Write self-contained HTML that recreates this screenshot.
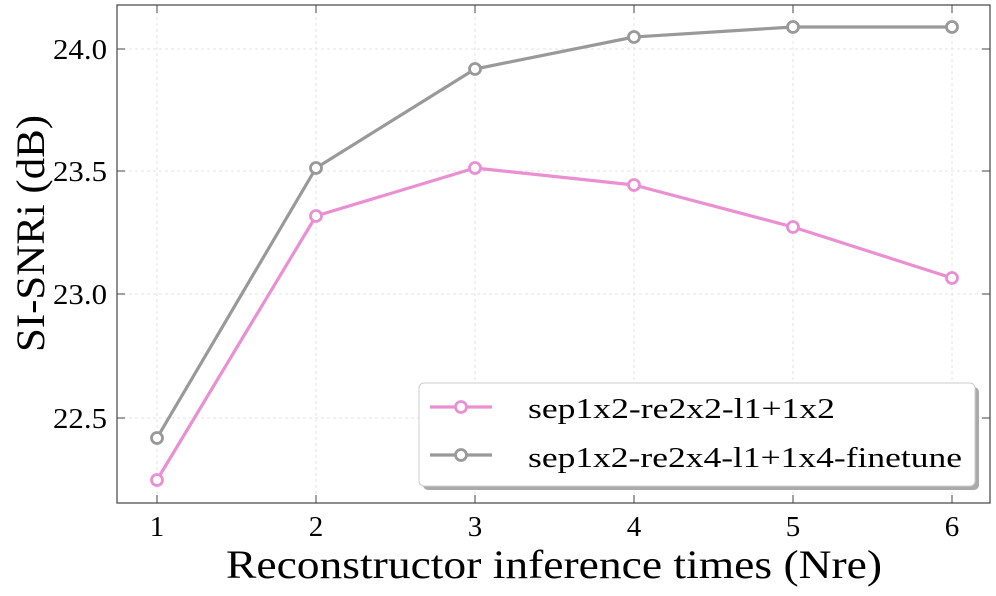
<!DOCTYPE html>
<html><head><style>body{margin:0;background:#fff}</style></head><body>
<svg width="996" height="591" xmlns="http://www.w3.org/2000/svg" font-family="Liberation Serif, serif">
<rect width="996" height="591" fill="#fff"/>
<g stroke="#e3e3e3" stroke-dasharray="3,3" stroke-width="1">
<line x1="157" y1="5" x2="157" y2="503"/><line x1="316" y1="5" x2="316" y2="503"/><line x1="475" y1="5" x2="475" y2="503"/><line x1="634" y1="5" x2="634" y2="503"/><line x1="793" y1="5" x2="793" y2="503"/><line x1="952" y1="5" x2="952" y2="503"/>
<line x1="117" y1="49" x2="990" y2="49"/><line x1="117" y1="171" x2="990" y2="171"/><line x1="117" y1="294" x2="990" y2="294"/><line x1="117" y1="418" x2="990" y2="418"/>
</g>
<g stroke="#444" stroke-width="1">
<line x1="157" y1="503" x2="157" y2="495"/><line x1="316" y1="503" x2="316" y2="495"/><line x1="475" y1="503" x2="475" y2="495"/><line x1="634" y1="503" x2="634" y2="495"/><line x1="793" y1="503" x2="793" y2="495"/><line x1="952" y1="503" x2="952" y2="495"/>
<line x1="157" y1="5" x2="157" y2="13"/><line x1="316" y1="5" x2="316" y2="13"/><line x1="475" y1="5" x2="475" y2="13"/><line x1="634" y1="5" x2="634" y2="13"/><line x1="793" y1="5" x2="793" y2="13"/><line x1="952" y1="5" x2="952" y2="13"/>
<line x1="117" y1="49" x2="125" y2="49"/><line x1="117" y1="171" x2="125" y2="171"/><line x1="117" y1="294" x2="125" y2="294"/><line x1="117" y1="418" x2="125" y2="418"/>
<line x1="990" y1="49" x2="982" y2="49"/><line x1="990" y1="171" x2="982" y2="171"/><line x1="990" y1="294" x2="982" y2="294"/><line x1="990" y1="418" x2="982" y2="418"/>
</g>
<g id="minor" stroke="#444" stroke-width="0.8"></g>
<script>
var g=document.getElementById('minor'),s='';
for(var k=0;k<30;k++){var x=125.2+k*31.8;if(x<118||x>989)continue;if(Math.abs((x-157)/159-Math.round((x-157)/159))<0.02)continue;s+='<line x1="'+x+'" y1="503" x2="'+x+'" y2="499"/><line x1="'+x+'" y1="5" x2="'+x+'" y2="9"/>';}
for(var k=-2;k<25;k++){var y=49+k*24.5;if(y<6||y>502)continue;if(k%5==0)continue;s+='<line x1="117" y1="'+y+'" x2="121" y2="'+y+'"/><line x1="990" y1="'+y+'" x2="986" y2="'+y+'"/>';}
g.innerHTML=s;
</script>
<polyline fill="none" stroke="#e98fd2" stroke-width="3.2" points="157,480 316,216 475,168 634,185 793,227 952,278"/>
<polyline fill="none" stroke="#999" stroke-width="3.2" points="157,438 316,168 475,69 634,37 793,27 952,27"/>
<g fill="#fff" stroke="#e98fd2" stroke-width="2.8">
<circle cx="157" cy="480" r="5.5"/><circle cx="316" cy="216" r="5.5"/><circle cx="475" cy="168" r="5.5"/><circle cx="634" cy="185" r="5.5"/><circle cx="793" cy="227" r="5.5"/><circle cx="952" cy="278" r="5.5"/></g>
<g fill="#fff" stroke="#999" stroke-width="2.8">
<circle cx="157" cy="438" r="5.5"/><circle cx="316" cy="168" r="5.5"/><circle cx="475" cy="69" r="5.5"/><circle cx="634" cy="37" r="5.5"/><circle cx="793" cy="27" r="5.5"/><circle cx="952" cy="27" r="5.5"/></g>
<rect x="117" y="5" width="873" height="498" fill="none" stroke="#444" stroke-width="1.2"/>
<rect x="423" y="387" width="556" height="103" rx="5" fill="#aaa"/>
<rect x="419" y="383" width="556" height="103" rx="5" fill="#fff" stroke="#ccc"/>
<line x1="430" y1="407" x2="492" y2="407" stroke="#e98fd2" stroke-width="3.2"/><circle cx="461" cy="407" r="5.5" fill="#fff" stroke="#e98fd2" stroke-width="2.8"/>
<line x1="430" y1="455" x2="492" y2="455" stroke="#999" stroke-width="3.2"/><circle cx="461" cy="455" r="5.5" fill="#fff" stroke="#999" stroke-width="2.8"/>
<g font-size="29" fill="#000">
<text x="528" y="418" textLength="307" lengthAdjust="spacingAndGlyphs">sep1x2-re2x2-l1+1x2</text>
<text x="528" y="467" textLength="434" lengthAdjust="spacingAndGlyphs">sep1x2-re2x4-l1+1x4-finetune</text>
</g>
<g font-size="29" fill="#000" text-anchor="middle">
<text x="157" y="536">1</text><text x="316" y="536">2</text><text x="475" y="536">3</text><text x="634" y="536">4</text><text x="793" y="536">5</text><text x="952" y="536">6</text>
</g>
<g font-size="29" fill="#000">
<text x="53" y="59" textLength="54" lengthAdjust="spacingAndGlyphs">24.0</text><text x="53" y="181" textLength="54" lengthAdjust="spacingAndGlyphs">23.5</text><text x="53" y="304" textLength="54" lengthAdjust="spacingAndGlyphs">23.0</text><text x="53" y="428" textLength="54" lengthAdjust="spacingAndGlyphs">22.5</text>
</g>
<text x="226" y="578" font-size="40" textLength="656" lengthAdjust="spacingAndGlyphs">Reconstructor inference times (Nre)</text>
<text transform="translate(44,352) rotate(-90)" font-size="40" textLength="237" lengthAdjust="spacingAndGlyphs">SI-SNRi (dB)</text>
</svg>
</body></html>
